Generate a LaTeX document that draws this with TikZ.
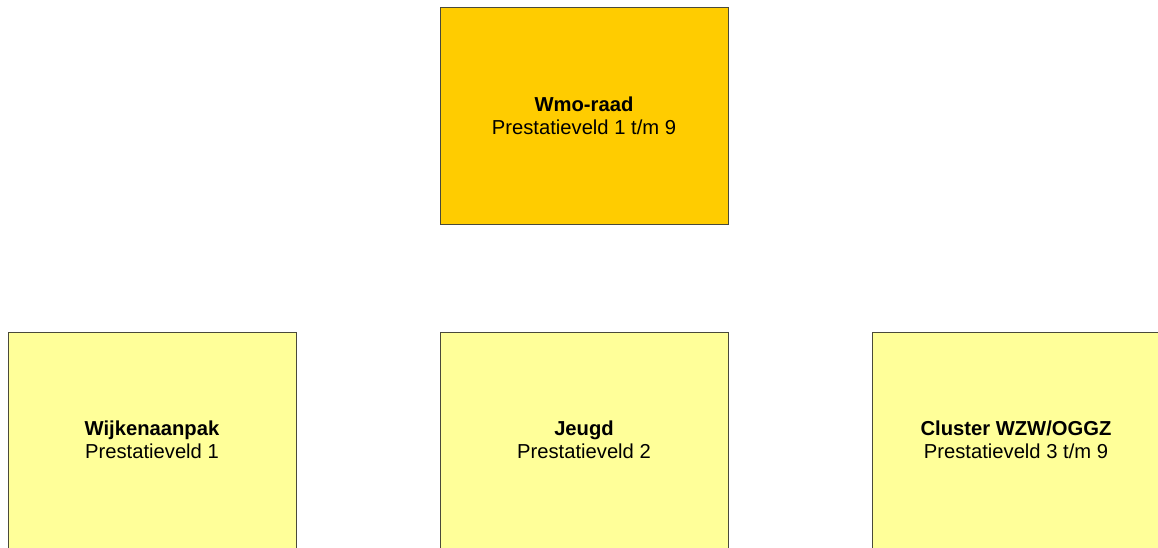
\documentclass[tikz,border=0pt]{standalone}
\usepackage{fontspec}
\setmainfont{Liberation Sans}
\definecolor{gold}{HTML}{FFCC00}
\definecolor{paleyellow}{HTML}{FFFF99}
\definecolor{edge}{HTML}{4A4A3A}
\begin{document}
\begin{tikzpicture}[x=1pt,y=-1pt,
  box/.style={draw=edge, line width=1pt, minimum width=288pt, minimum height=216pt,
    inner sep=0pt, align=center, font=\fontsize{20.2}{23.5}\selectfont},
  topbox/.style={box, fill=gold},
  subbox/.style={box, fill=paleyellow}]
\useasboundingbox (0,0) rectangle (1158,548);
\clip (0,0) rectangle (1158,548);
\node[topbox] (wmo) at (584,116) {\textbf{Wmo-raad}\\Prestatieveld 1 t/m 9};
\node[subbox] (wijk) at (152,440) {\textbf{Wijkenaanpak}\\Prestatieveld 1};
\node[subbox] (jeugd) at (584,440) {\textbf{Jeugd}\\Prestatieveld 2};
\node[subbox] (cluster) at (1016,440) {\textbf{Cluster WZW/OGGZ}\\Prestatieveld 3 t/m 9};
\end{tikzpicture}
\end{document}
